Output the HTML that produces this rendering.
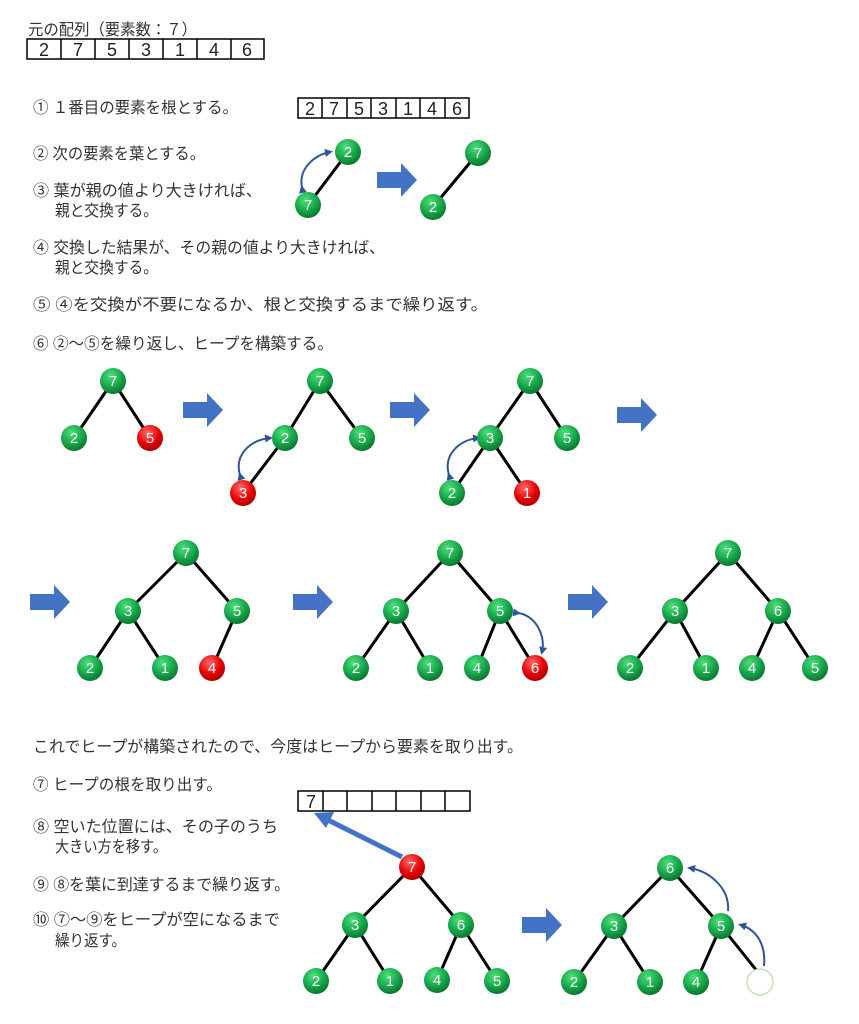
<!DOCTYPE html>
<html><head><meta charset="utf-8"><style>
body{margin:0;background:#fff}
svg{display:block}
.t{font-family:"Liberation Sans","Noto Sans CJK JP",sans-serif;font-size:16px;fill:#333}
.n{font-family:"Liberation Sans",sans-serif;font-size:15px;fill:#fff;text-anchor:middle}
.c{font-family:"Liberation Sans",sans-serif;font-size:18px;fill:#222;text-anchor:middle}
.e{stroke:#000;stroke-width:3}
.g{fill:url(#gg)}
.r{fill:url(#gr)}
.ba{fill:#4472C4}
.cv{fill:none;stroke:#2F5597;stroke-width:2}
</style></head><body>
<svg width="859" height="1024" viewBox="0 0 859 1024" xmlns="http://www.w3.org/2000/svg">
<defs>
<radialGradient id="gg" cx="0.4" cy="0.3" r="0.75"><stop offset="0" stop-color="#4de07a"/><stop offset="0.6" stop-color="#14a347"/><stop offset="1" stop-color="#0a6e2c"/></radialGradient>
<radialGradient id="gr" cx="0.4" cy="0.3" r="0.75"><stop offset="0" stop-color="#ff6a6a"/><stop offset="0.6" stop-color="#e50000"/><stop offset="1" stop-color="#a00000"/></radialGradient>
<marker id="ah" markerWidth="8" markerHeight="8" refX="5" refY="4" orient="auto" markerUnits="userSpaceOnUse"><path d="M0,0 L8,4 L0,8 z" fill="#2F5597"/></marker>
</defs>

<text class="t" x="28" y="35" textLength="169" lengthAdjust="spacingAndGlyphs">元の配列（要素数：７）</text>
<g fill="none" stroke="#000" stroke-width="1.5">
<rect x="27" y="39" width="237" height="20"/>
<line x1="61" y1="39" x2="61" y2="59"/><line x1="95" y1="39" x2="95" y2="59"/><line x1="129" y1="39" x2="129" y2="59"/><line x1="163" y1="39" x2="163" y2="59"/><line x1="197" y1="39" x2="197" y2="59"/><line x1="231" y1="39" x2="231" y2="59"/>
</g>
<g class="c"><text x="44" y="56">2</text><text x="78" y="56">7</text><text x="112" y="56">5</text><text x="146" y="56">3</text><text x="180" y="56">1</text><text x="214" y="56">4</text><text x="247" y="56">6</text></g>

<g fill="none" stroke="#000" stroke-width="1.5">
<rect x="298" y="98" width="171" height="20"/>
<line x1="322" y1="98" x2="322" y2="118"/><line x1="347" y1="98" x2="347" y2="118"/><line x1="371" y1="98" x2="371" y2="118"/><line x1="396" y1="98" x2="396" y2="118"/><line x1="420" y1="98" x2="420" y2="118"/><line x1="445" y1="98" x2="445" y2="118"/>
</g>
<g class="c"><text x="310" y="115">2</text><text x="334" y="115">7</text><text x="359" y="115">5</text><text x="383" y="115">3</text><text x="408" y="115">1</text><text x="432" y="115">4</text><text x="457" y="115">6</text></g>

<text class="t" x="33" y="113" textLength="205" lengthAdjust="spacingAndGlyphs">① １番目の要素を根とする。</text>
<text class="t" x="33" y="159" textLength="172" lengthAdjust="spacingAndGlyphs">② 次の要素を葉とする。</text>
<text class="t" x="33" y="196" textLength="229" lengthAdjust="spacingAndGlyphs">③ 葉が親の値より大きければ、</text>
<text class="t" x="55" y="216" textLength="103" lengthAdjust="spacingAndGlyphs">親と交換する。</text>
<text class="t" x="33" y="253" textLength="352" lengthAdjust="spacingAndGlyphs">④ 交換した結果が、その親の値より大きければ、</text>
<text class="t" x="55" y="273" textLength="103" lengthAdjust="spacingAndGlyphs">親と交換する。</text>
<text class="t" x="33" y="310" textLength="455" lengthAdjust="spacingAndGlyphs">⑤ ④を交換が不要になるか、根と交換するまで繰り返す。</text>
<text class="t" x="33" y="349" textLength="300" lengthAdjust="spacingAndGlyphs">⑥ ②～⑤を繰り返し、ヒープを構築する。</text>

<!-- step pair -->
<line class="e" x1="348" y1="152" x2="308" y2="205"/>
<path class="cv" d="M302,188 C298,168 315,155 330,152" marker-end="url(#ah)" marker-start="url(#ah)"/>
<circle class="g" cx="348" cy="152" r="13"/><text class="n" x="348" y="157">2</text>
<circle class="g" cx="308" cy="205" r="13"/><text class="n" x="308" y="210">7</text>
<path class="ba" d="M377,172 h24 v-9 l16,17 l-16,17 v-9 h-24z"/>
<line class="e" x1="478" y1="153" x2="433" y2="207"/>
<circle class="g" cx="478" cy="153" r="13"/><text class="n" x="478" y="158">7</text>
<circle class="g" cx="433" cy="207" r="13"/><text class="n" x="433" y="212">2</text>

<!-- Tree A -->
<line class="e" x1="113" y1="381" x2="74" y2="438"/><line class="e" x1="113" y1="381" x2="150" y2="438"/>
<circle class="g" cx="113" cy="381" r="13"/><text class="n" x="113" y="386">7</text>
<circle class="g" cx="74" cy="438" r="13"/><text class="n" x="74" y="443">2</text>
<circle class="r" cx="150" cy="438" r="13"/><text class="n" x="150" y="443">5</text>
<path class="ba" d="M183,402 h24 v-9 l16,17 l-16,17 v-9 h-24z"/>

<!-- Tree B -->
<line class="e" x1="320" y1="381" x2="285" y2="438"/><line class="e" x1="320" y1="381" x2="362" y2="438"/><line class="e" x1="285" y1="438" x2="243" y2="493"/>
<path class="cv" d="M240,475 C234,455 250,440 270,438" marker-end="url(#ah)" marker-start="url(#ah)"/>
<circle class="g" cx="320" cy="381" r="13"/><text class="n" x="320" y="386">7</text>
<circle class="g" cx="285" cy="438" r="13"/><text class="n" x="285" y="443">2</text>
<circle class="g" cx="362" cy="438" r="13"/><text class="n" x="362" y="443">5</text>
<circle class="r" cx="243" cy="493" r="13"/><text class="n" x="243" y="498">3</text>
<path class="ba" d="M390,402 h24 v-9 l16,17 l-16,17 v-9 h-24z"/>

<!-- Tree C -->
<line class="e" x1="530" y1="381" x2="490" y2="438"/><line class="e" x1="530" y1="381" x2="567" y2="438"/><line class="e" x1="490" y1="438" x2="452" y2="493"/><line class="e" x1="490" y1="438" x2="527" y2="493"/>
<path class="cv" d="M449,475 C443,455 459,440 478,438" marker-end="url(#ah)" marker-start="url(#ah)"/>
<circle class="g" cx="530" cy="381" r="13"/><text class="n" x="530" y="386">7</text>
<circle class="g" cx="490" cy="438" r="13"/><text class="n" x="490" y="443">3</text>
<circle class="g" cx="567" cy="438" r="13"/><text class="n" x="567" y="443">5</text>
<circle class="g" cx="452" cy="493" r="13"/><text class="n" x="452" y="498">2</text>
<circle class="r" cx="527" cy="493" r="13"/><text class="n" x="527" y="498">1</text>
<path class="ba" d="M617,407 h24 v-9 l16,17 l-16,17 v-9 h-24z"/>

<!-- Row 2 -->
<path class="ba" d="M30,594 h24 v-9 l16,17 l-16,17 v-9 h-24z"/>
<g>
<line class="e" x1="186" y1="553" x2="128" y2="611"/><line class="e" x1="186" y1="553" x2="237" y2="611"/>
<line class="e" x1="128" y1="611" x2="90" y2="668"/><line class="e" x1="128" y1="611" x2="165" y2="668"/><line class="e" x1="237" y1="611" x2="212" y2="668"/>
<circle class="g" cx="186" cy="553" r="13"/><text class="n" x="186" y="558">7</text>
<circle class="g" cx="128" cy="611" r="13"/><text class="n" x="128" y="616">3</text>
<circle class="g" cx="237" cy="611" r="13"/><text class="n" x="237" y="616">5</text>
<circle class="g" cx="90" cy="668" r="13"/><text class="n" x="90" y="673">2</text>
<circle class="g" cx="165" cy="668" r="13"/><text class="n" x="165" y="673">1</text>
<circle class="r" cx="212" cy="668" r="13"/><text class="n" x="212" y="673">4</text>
</g>
<path class="ba" d="M293,594 h24 v-9 l16,17 l-16,17 v-9 h-24z"/>
<g>
<line class="e" x1="450" y1="553" x2="396" y2="611"/><line class="e" x1="450" y1="553" x2="500" y2="611"/>
<line class="e" x1="396" y1="611" x2="356" y2="668"/><line class="e" x1="396" y1="611" x2="430" y2="668"/><line class="e" x1="500" y1="611" x2="477" y2="668"/><line class="e" x1="500" y1="611" x2="535" y2="668"/>
<path class="cv" d="M518,613 C535,615 546,635 542,652" marker-end="url(#ah)" marker-start="url(#ah)"/>
<circle class="g" cx="450" cy="553" r="13"/><text class="n" x="450" y="558">7</text>
<circle class="g" cx="396" cy="611" r="13"/><text class="n" x="396" y="616">3</text>
<circle class="g" cx="500" cy="611" r="13"/><text class="n" x="500" y="616">5</text>
<circle class="g" cx="356" cy="668" r="13"/><text class="n" x="356" y="673">2</text>
<circle class="g" cx="430" cy="668" r="13"/><text class="n" x="430" y="673">1</text>
<circle class="g" cx="477" cy="668" r="13"/><text class="n" x="477" y="673">4</text>
<circle class="r" cx="535" cy="668" r="13"/><text class="n" x="535" y="673">6</text>
</g>
<path class="ba" d="M568,594 h24 v-9 l16,17 l-16,17 v-9 h-24z"/>
<g>
<line class="e" x1="728" y1="553" x2="675" y2="611"/><line class="e" x1="728" y1="553" x2="778" y2="611"/>
<line class="e" x1="675" y1="611" x2="630" y2="668"/><line class="e" x1="675" y1="611" x2="706" y2="668"/><line class="e" x1="778" y1="611" x2="752" y2="668"/><line class="e" x1="778" y1="611" x2="815" y2="668"/>
<circle class="g" cx="728" cy="553" r="13"/><text class="n" x="728" y="558">7</text>
<circle class="g" cx="675" cy="611" r="13"/><text class="n" x="675" y="616">3</text>
<circle class="g" cx="778" cy="611" r="13"/><text class="n" x="778" y="616">6</text>
<circle class="g" cx="630" cy="668" r="13"/><text class="n" x="630" y="673">2</text>
<circle class="g" cx="706" cy="668" r="13"/><text class="n" x="706" y="673">1</text>
<circle class="g" cx="752" cy="668" r="13"/><text class="n" x="752" y="673">4</text>
<circle class="g" cx="815" cy="668" r="13"/><text class="n" x="815" y="673">5</text>
</g>

<text class="t" x="33" y="752" textLength="490" lengthAdjust="spacingAndGlyphs">これでヒープが構築されたので、今度はヒープから要素を取り出す。</text>
<text class="t" x="33" y="790" textLength="189" lengthAdjust="spacingAndGlyphs">⑦ ヒープの根を取り出す。</text>
<text class="t" x="33" y="832" textLength="245" lengthAdjust="spacingAndGlyphs">⑧ 空いた位置には、その子のうち</text>
<text class="t" x="55" y="852" textLength="112" lengthAdjust="spacingAndGlyphs">大きい方を移す。</text>
<text class="t" x="33" y="890" textLength="257" lengthAdjust="spacingAndGlyphs">⑨ ⑧を葉に到達するまで繰り返す。</text>
<text class="t" x="33" y="925" textLength="247" lengthAdjust="spacingAndGlyphs">⑩ ⑦～⑨をヒープが空になるまで</text>
<text class="t" x="55" y="946" textLength="71" lengthAdjust="spacingAndGlyphs">繰り返す。</text>

<g fill="none" stroke="#000" stroke-width="1.5">
<rect x="298" y="791" width="172" height="20"/>
<line x1="323" y1="791" x2="323" y2="811"/><line x1="347" y1="791" x2="347" y2="811"/><line x1="372" y1="791" x2="372" y2="811"/><line x1="396" y1="791" x2="396" y2="811"/><line x1="421" y1="791" x2="421" y2="811"/><line x1="445" y1="791" x2="445" y2="811"/>
</g>
<text class="c" x="311" y="808">7</text>
<line x1="402" y1="857" x2="328" y2="820" stroke="#4472C4" stroke-width="5"/>
<path d="M314,813 L334,812 L326,828 z" fill="#4472C4"/>

<g>
<line class="e" x1="412" y1="867" x2="355" y2="925"/><line class="e" x1="412" y1="867" x2="461" y2="925"/>
<line class="e" x1="355" y1="925" x2="316" y2="981"/><line class="e" x1="355" y1="925" x2="390" y2="981"/><line class="e" x1="461" y1="925" x2="437" y2="980"/><line class="e" x1="461" y1="925" x2="497" y2="981"/>
<circle class="r" cx="412" cy="867" r="13"/><text class="n" x="412" y="872">7</text>
<circle class="g" cx="355" cy="925" r="13"/><text class="n" x="355" y="930">3</text>
<circle class="g" cx="461" cy="925" r="13"/><text class="n" x="461" y="930">6</text>
<circle class="g" cx="316" cy="981" r="13"/><text class="n" x="316" y="986">2</text>
<circle class="g" cx="390" cy="981" r="13"/><text class="n" x="390" y="986">1</text>
<circle class="g" cx="437" cy="980" r="13"/><text class="n" x="437" y="985">4</text>
<circle class="g" cx="497" cy="981" r="13"/><text class="n" x="497" y="986">5</text>
</g>
<path class="ba" d="M522,917 h24 v-9 l16,17 l-16,17 v-9 h-24z"/>
<g>
<line class="e" x1="670" y1="868" x2="614" y2="926"/><line class="e" x1="670" y1="868" x2="721" y2="926"/>
<line class="e" x1="614" y1="926" x2="574" y2="982"/><line class="e" x1="614" y1="926" x2="650" y2="982"/><line class="e" x1="721" y1="926" x2="696" y2="982"/><line class="e" x1="721" y1="926" x2="757" y2="971"/>
<path class="cv" d="M728,911 C730,890 712,872 690,868" marker-end="url(#ah)"/>
<path class="cv" d="M764,966 C766,945 757,930 741,925" marker-end="url(#ah)"/>
<circle class="g" cx="670" cy="868" r="13"/><text class="n" x="670" y="873">6</text>
<circle class="g" cx="614" cy="926" r="13"/><text class="n" x="614" y="931">3</text>
<circle class="g" cx="721" cy="926" r="13"/><text class="n" x="721" y="931">5</text>
<circle class="g" cx="574" cy="982" r="13"/><text class="n" x="574" y="987">2</text>
<circle class="g" cx="650" cy="982" r="13"/><text class="n" x="650" y="987">1</text>
<circle class="g" cx="696" cy="982" r="13"/><text class="n" x="696" y="987">4</text>
<circle cx="760" cy="982" r="13" fill="#fff" stroke="#b9dca8" stroke-width="1.2"/>
</g>
</svg>
</body></html>
